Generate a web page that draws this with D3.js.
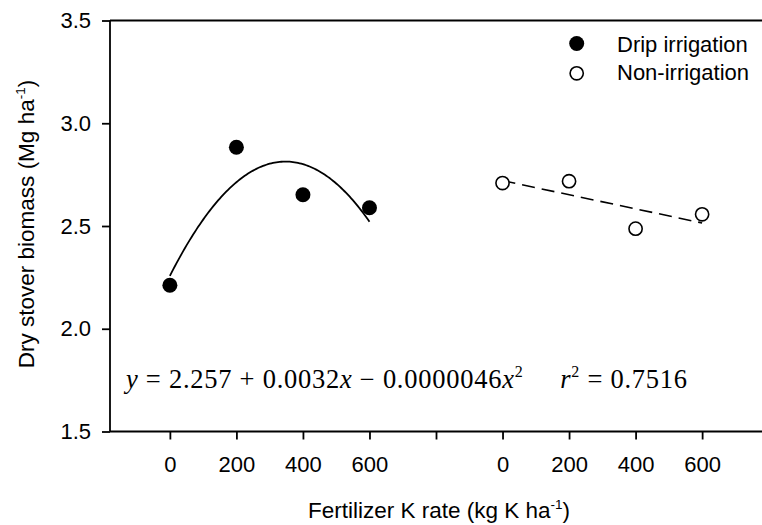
<!DOCTYPE html>
<html>
<head>
<meta charset="utf-8">
<script src="https://cdn.jsdelivr.net/npm/d3@7"></script>
<style>
  html, body { margin: 0; padding: 0; background: #fff; }
  svg { display: block; }
  text { fill: #000; }
  .eq { font-family: "Liberation Serif", Times, serif; }
</style>
</head>
<body>
<svg id="chart" width="762" height="525"></svg>
<script>
(function () {
  'use strict';

  // ---- Data ----
  const kRates = [0, 200, 400, 600];
  const dripValues = [2.212, 2.883, 2.652, 2.589];
  const nonIrrValues = [2.709, 2.718, 2.487, 2.557];
  // second group is drawn shifted along the axis
  const groupOffset = 1000;
  const xTicks = [0, 200, 400, 600, 800, 1000, 1200, 1400, 1600];
  const yTicks = [1.5, 2.0, 2.5, 3.0, 3.5];
  // printed quadratic fit for drip irrigation
  const quadCoef = [2.257, 0.0032, -0.0000046];

  const svg = d3.select('#chart');
  const margin = { left: 110, top: 20.5, right: 0, bottom: 93.5 };
  const width = 762;
  const height = 525;

  const x = d3.scaleLinear().domain([-180, 1780]).range([margin.left, width - margin.right]);
  const y = d3.scaleLinear().domain([1.5, 3.5]).range([height - margin.bottom, margin.top]);

  const sans = "'Liberation Sans', Arial, sans-serif";

  // ---- Axes ----
  const xAxis = d3.axisBottom(x)
    .tickValues(xTicks)
    .tickSize(8)
    .tickPadding(17)
    .tickFormat(function (d) {
      if (d === 800) return '';
      return d > 800 ? String(d - groupOffset) : String(d);
    });

  const yAxis = d3.axisLeft(y)
    .tickValues(yTicks)
    .tickSize(8)
    .tickPadding(11)
    .tickFormat(d3.format('.1f'));

  const gx = svg.append('g')
    .attr('transform', 'translate(0,' + y(1.5) + ')')
    .call(xAxis);
  const gy = svg.append('g')
    .attr('transform', 'translate(' + margin.left + ',0)')
    .call(yAxis);

  [gx, gy].forEach(function (g) {
    g.select('.domain').attr('stroke', '#000').attr('stroke-width', 1.8);
    g.selectAll('.tick line').attr('stroke', '#000').attr('stroke-width', 1.8);
    g.selectAll('.tick text')
      .attr('font-family', sans)
      .attr('font-size', 22)
      .attr('fill', '#000');
  });
  gx.select('.domain').attr('d', 'M' + margin.left + ',0H' + width);
  gy.select('.domain').attr('d', 'M0,' + y(3.5) + 'V' + y(1.5));

  // top frame line
  svg.append('line')
    .attr('x1', margin.left).attr('x2', width)
    .attr('y1', y(3.5)).attr('y2', y(3.5))
    .attr('stroke', '#000').attr('stroke-width', 1.8);

  // ---- Fit lines ----
  const quadLine = d3.line()
    .x(function (d) { return x(d); })
    .y(function (d) { return y(quadCoef[0] + quadCoef[1] * d + quadCoef[2] * d * d); });

  svg.append('path')
    .datum(d3.range(0, 601, 5))
    .attr('d', quadLine)
    .attr('fill', 'none')
    .attr('stroke', '#000')
    .attr('stroke-width', 1.8);

  // least squares line for non-irrigation
  const mx = d3.mean(kRates);
  const my = d3.mean(nonIrrValues);
  let sxy = 0, sxx = 0;
  kRates.forEach(function (k, i) {
    sxy += (k - mx) * (nonIrrValues[i] - my);
    sxx += (k - mx) * (k - mx);
  });
  const slope = sxy / sxx;
  const intercept = my - slope * mx;

  svg.append('line')
    .attr('x1', x(groupOffset)).attr('y1', y(intercept))
    .attr('x2', x(groupOffset + 600)).attr('y2', y(intercept + slope * 600))
    .attr('stroke', '#000')
    .attr('stroke-width', 1.6)
    .attr('stroke-dasharray', '13,7');

  // ---- Points ----
  svg.append('g').selectAll('circle')
    .data(kRates)
    .enter()
    .append('circle')
    .attr('cx', function (d) { return x(d); })
    .attr('cy', function (d, i) { return y(dripValues[i]); })
    .attr('r', 7.5)
    .attr('fill', '#000');

  svg.append('g').selectAll('circle')
    .data(kRates)
    .enter()
    .append('circle')
    .attr('cx', function (d) { return x(d + groupOffset); })
    .attr('cy', function (d, i) { return y(nonIrrValues[i]); })
    .attr('r', 6.6)
    .attr('fill', '#fff')
    .attr('stroke', '#000')
    .attr('stroke-width', 1.6);

  // ---- Legend ----
  const legend = svg.append('g').attr('font-family', sans).attr('font-size', 22);
  legend.append('circle').attr('cx', 576.7).attr('cy', 43.5).attr('r', 7.5).attr('fill', '#000');
  legend.append('text').attr('x', 617).attr('y', 51.5).text('Drip irrigation');
  legend.append('circle').attr('cx', 576.7).attr('cy', 73.3).attr('r', 6.6)
    .attr('fill', '#fff').attr('stroke', '#000').attr('stroke-width', 1.6);
  legend.append('text').attr('x', 617).attr('y', 80).text('Non-irrigation');

  // ---- Equation ----
  const eq = svg.append('text')
    .attr('class', 'eq')
    .attr('x', 126)
    .attr('y', 388)
    .attr('font-size', 26.5)
    .attr('textLength', 561)
    .attr('lengthAdjust', 'spacing');
  const parts = [
    { t: 'y', i: true },
    { t: '\u00a0=\u00a02.257\u00a0+\u00a00.0032' },
    { t: 'x', i: true },
    { t: '\u00a0\u2212\u00a00.0000046' },
    { t: 'x', i: true },
    { t: '2', sup: true },
    { t: '\u00a0\u00a0\u00a0\u00a0\u00a0' },
    { t: 'r', i: true },
    { t: '2', sup: true },
    { t: '\u00a0=\u00a00.7516' }
  ];
  let supOn = false;
  parts.forEach(function (p) {
    const ts = eq.append('tspan').text(p.t);
    if (p.i) ts.attr('font-style', 'italic');
    if (p.sup) {
      ts.attr('font-size', 16).attr('dy', -11);
      supOn = true;
    } else if (supOn) {
      ts.attr('dy', 11);
      supOn = false;
    }
  });

  // ---- Axis titles ----
  const xt = svg.append('text')
    .attr('x', 439)
    .attr('y', 518)
    .attr('text-anchor', 'middle')
    .attr('font-family', sans)
    .attr('font-size', 22.5);
  xt.append('tspan').text('Fertilizer K rate (kg K ha');
  xt.append('tspan').text('-1').attr('font-size', 13.5).attr('dy', -9);
  xt.append('tspan').text(')').attr('dy', 9);

  const yt = svg.append('text')
    .attr('transform', 'translate(34,224) rotate(-90)')
    .attr('text-anchor', 'middle')
    .attr('font-family', sans)
    .attr('font-size', 22.5);
  yt.append('tspan').text('Dry stover biomass (Mg ha');
  yt.append('tspan').text('-1').attr('font-size', 13.5).attr('dy', -9);
  yt.append('tspan').text(')').attr('dy', 9);
})();
</script>
</body>
</html>
